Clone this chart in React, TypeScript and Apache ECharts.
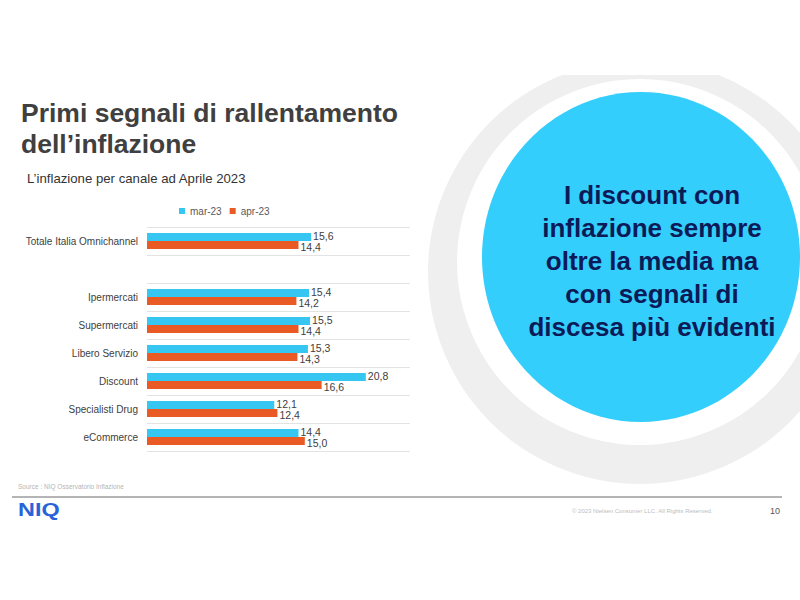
import React, { useEffect, useRef } from "react";
import * as echarts from "echarts";

const categories = [
  "Totale Italia Omnichannel",
  "",
  "Ipermercati",
  "Supermercati",
  "Libero Servizio",
  "Discount",
  "Specialisti Drug",
  "eCommerce",
];
const seriesNames = ["mar-23", "apr-23"];
const mar23 = [15.6, null, 15.4, 15.5, 15.3, 20.8, 12.1, 14.4];
const apr23 = [14.4, null, 14.2, 14.4, 14.3, 16.6, 12.4, 15.0];

const titleLines = ["Primi segnali di rallentamento", "dell\u2019inflazione"];
const subtitle = "L\u2019inflazione per canale ad Aprile 2023";
const calloutText =
  "I discount con\ninflazione sempre\noltre la media ma\ncon segnali di\ndiscesa più evidenti";
const sourceText = "Source : NIQ Osservatorio Inflazione";
const copyrightText = "© 2023 Nielsen Consumer LLC. All Rights Reserved.";
const pageNumber = "10";
const logoText = "NIQ";

const FONT = "'Liberation Sans', Arial, sans-serif";
const CYAN = "#35c6f2";
const ORANGE = "#ea5a24";

export default function App() {
  const ref = useRef<HTMLDivElement>(null);
  useEffect(() => {
    if (!ref.current) return;
    const chart = echarts.init(ref.current, undefined, { renderer: "svg" });
    const fmt = (p: any) =>
      p.value == null ? "" : Number(p.value).toFixed(1).replace(".", ",");
    const labelBase = {
      show: true,
      position: "right",
      distance: 2,
      formatter: fmt,
      fontSize: 10.5,
      lineHeight: 10,
      color: "#404040",
      fontFamily: FONT,
    };
    chart.setOption({
      animation: false,
      backgroundColor: "#ffffff",
      textStyle: { fontFamily: FONT },
      legend: {
        data: seriesNames,
        left: 179,
        top: 206,
        padding: 0,
        itemWidth: 6,
        itemHeight: 6,
        itemGap: 8,
        icon: "rect",
        textStyle: { fontSize: 10, color: "#595959", fontFamily: FONT },
      },
      grid: { left: 147, top: 227, width: 263, height: 224, containLabel: false },
      xAxis: {
        type: "value",
        min: 0,
        max: 25,
        show: false,
      },
      yAxis: {
        type: "category",
        data: categories,
        inverse: true,
        axisLine: { show: false },
        axisTick: { show: false },
        axisLabel: { fontSize: 10, color: "#404040", margin: 9, fontFamily: FONT },
        splitLine: { show: true, lineStyle: { color: "#e3e3e3", width: 1 } },
      },
      series: [
        {
          name: seriesNames[0],
          type: "bar",
          data: mar23,
          barWidth: 8,
          barGap: "0%",
          itemStyle: { color: CYAN },
          label: { ...labelBase, offset: [0, -1.5] },
        },
        {
          name: seriesNames[1],
          type: "bar",
          data: apr23,
          barWidth: 8,
          barGap: "0%",
          itemStyle: { color: ORANGE },
          label: { ...labelBase, offset: [0, 1.5] },
        },
      ],
      graphic: [
        {
          type: "circle",
          z: 1,
          shape: { cx: 640, cy: 272, r: 212 },
          style: { fill: "#efefef" },
          silent: true,
        },
        {
          type: "circle",
          z: 2,
          shape: { cx: 640, cy: 262, r: 183 },
          style: { fill: "#ffffff" },
          silent: true,
        },
        {
          type: "ellipse",
          z: 3,
          shape: { cx: 641, cy: 257, rx: 159, ry: 165 },
          style: { fill: "#34cefc" },
          silent: true,
        },
        {
          type: "rect",
          z: 4,
          shape: { x: 410, y: 0, width: 390, height: 75 },
          style: { fill: "#ffffff" },
          silent: true,
        },
        {
          type: "text",
          z: 5,
          x: 652,
          y: 260.5,
          style: {
            text: calloutText,
            fontSize: 26,
            fontWeight: "bold",
            fontFamily: FONT,
            fill: "#0c1b58",
            align: "center",
            verticalAlign: "middle",
            lineHeight: 33,
          },
        },
        {
          type: "text",
          z: 5,
          x: 21,
          y: 113,
          style: {
            text: titleLines[0],
            fontSize: 26.5,
            fontWeight: "bold",
            fontFamily: FONT,
            fill: "#404040",
            verticalAlign: "middle",
          },
        },
        {
          type: "text",
          z: 5,
          x: 21,
          y: 144,
          style: {
            text: titleLines[1],
            fontSize: 26.5,
            fontWeight: "bold",
            fontFamily: FONT,
            fill: "#404040",
            verticalAlign: "middle",
          },
        },
        {
          type: "text",
          z: 5,
          x: 27,
          y: 178,
          style: {
            text: subtitle,
            fontSize: 13.2,
            fontFamily: FONT,
            fill: "#333333",
            verticalAlign: "middle",
          },
        },
        {
          type: "text",
          z: 5,
          x: 18,
          y: 486,
          style: {
            text: sourceText,
            fontSize: 6.5,
            fontFamily: FONT,
            fill: "#b5b5b5",
            verticalAlign: "middle",
          },
        },
        {
          type: "line",
          z: 5,
          shape: { x1: 12, y1: 497, x2: 782, y2: 497 },
          style: { stroke: "#6a6a6a", lineWidth: 1 },
        },
        {
          type: "text",
          z: 5,
          x: 18,
          y: 510,
          scaleX: 1.3,
          style: {
            text: logoText,
            fontSize: 18,
            fontWeight: "bold",
            fontFamily: FONT,
            fill: "#2a63d9",
            verticalAlign: "middle",
          },
        },
        {
          type: "text",
          z: 5,
          x: 572,
          y: 511,
          style: {
            text: copyrightText,
            fontSize: 6,
            fontFamily: FONT,
            fill: "#bdbdbd",
            verticalAlign: "middle",
          },
        },
        {
          type: "text",
          z: 5,
          x: 780,
          y: 511,
          style: {
            text: pageNumber,
            fontSize: 9,
            fontFamily: FONT,
            fill: "#555555",
            align: "right",
            verticalAlign: "middle",
          },
        },
      ],
    });
    return () => chart.dispose();
  }, []);
  return (
    <div
      ref={ref}
      style={{ position: "fixed", left: 0, top: 0, width: 800, height: 600 }}
    />
  );
}
